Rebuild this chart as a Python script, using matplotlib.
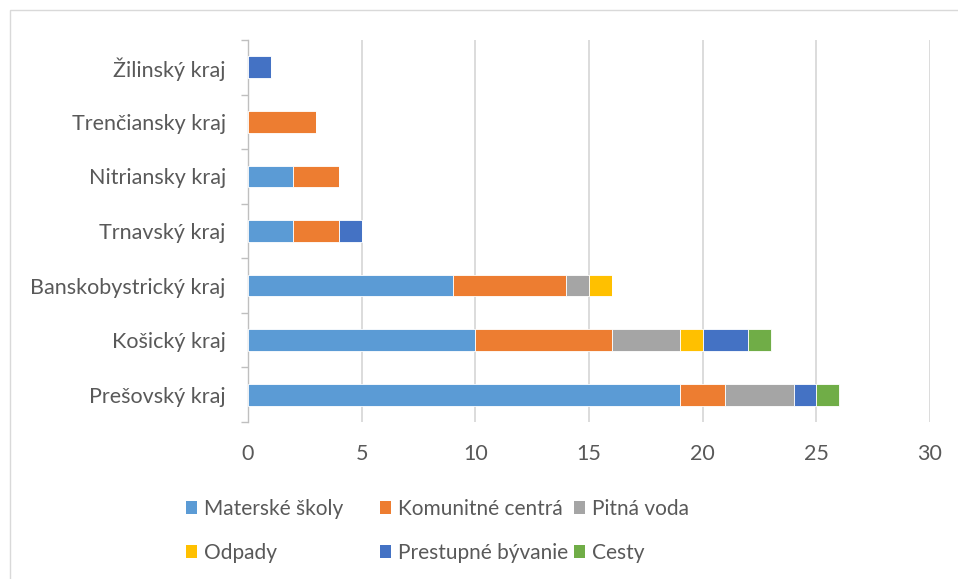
import matplotlib
matplotlib.use("Agg")
import matplotlib.pyplot as plt
from matplotlib.patches import Rectangle, Patch
import numpy as np

plt.rcParams['font.family'] = ['Lato', 'DejaVu Sans']

regions = ["Prešovský kraj", "Košický kraj", "Banskobystrický kraj", "Trnavský kraj",
           "Nitriansky kraj", "Trenčiansky kraj", "Žilinský kraj"]
series_names = ["Materské školy", "Komunitné centrá", "Pitná voda", "Odpady",
                "Prestupné bývanie", "Cesty"]
materske = [19, 10, 9, 2, 2, 0, 0]
komunitne = [2, 6, 5, 2, 2, 3, 0]
pitna = [3, 3, 1, 0, 0, 0, 0]
odpady = [0, 1, 1, 0, 0, 0, 0]
prestupne = [1, 2, 0, 1, 0, 0, 1]
cesty = [1, 1, 0, 0, 0, 0, 0]
series_values = [materske, komunitne, pitna, odpady, prestupne, cesty]
colors = ["#5B9BD5", "#ED7D31", "#A5A5A5", "#FFC000", "#4472C4", "#70AD47"]
xticks = [0, 5, 10, 15, 20, 25, 30]

W, H = 958, 579
fig = plt.figure(figsize=(W / 100, H / 100), dpi=100)
fig.patches.append(Rectangle((10 / W, -0.1), 1.2, 1.1 - 10 / H, transform=fig.transFigure,
                             fill=False, edgecolor="#D9D9D9", linewidth=1.0))
ax = fig.add_axes([248 / W, 1 - 422 / H, (930 - 248) / W, (422 - 40) / H])

y = np.arange(len(regions))
left = np.zeros(len(regions))
for name, vals, c in zip(series_names, series_values, colors):
    vals = np.array(vals, dtype=float)
    ax.barh(y, vals, left=left, height=0.4, color=c, edgecolor="white", linewidth=0.6,
            label=name, zorder=3)
    left += vals

ax.set_xlim(0, 30)
ax.set_ylim(-0.5, len(regions) - 0.5)
ax.set_xticks(xticks)
ax.set_yticks(y)
ax.set_yticklabels(regions)
ax.set_yticks(np.arange(-0.5, len(regions), 1), minor=True)
ax.tick_params(axis='y', which='major', length=0, pad=16, labelsize=15.5, labelcolor="#595959")
ax.tick_params(axis='y', which='minor', length=5, color="#BFBFBF", width=1)
ax.tick_params(axis='x', length=0, pad=16, labelsize=15.5, labelcolor="#595959")
ax.xaxis.grid(True, color="#D9D9D9", linewidth=1.3, zorder=0)
ax.set_axisbelow(True)
for s in ["top", "right", "bottom"]:
    ax.spines[s].set_visible(False)
ax.spines["left"].set_color("#BFBFBF")
ax.spines["left"].set_linewidth(1.0)

# legend in three equal columns
col_x = [186, 380, 574]
for i in range(3):
    idx = [i, i + 3]
    handles = [Patch(facecolor=colors[j], edgecolor="none") for j in idx]
    labels = [series_names[j] for j in idx]
    fig.legend(handles, labels, loc="upper left",
               bbox_to_anchor=(col_x[i] / W, 1 - 499 / H), bbox_transform=fig.transFigure,
               frameon=False, fontsize=15, handlelength=0.53, handleheight=0.53,
               handletextpad=0.34, labelspacing=1.15, borderpad=0, borderaxespad=0,
               labelcolor="#595959")

fig.savefig("out.png", dpi=100)
